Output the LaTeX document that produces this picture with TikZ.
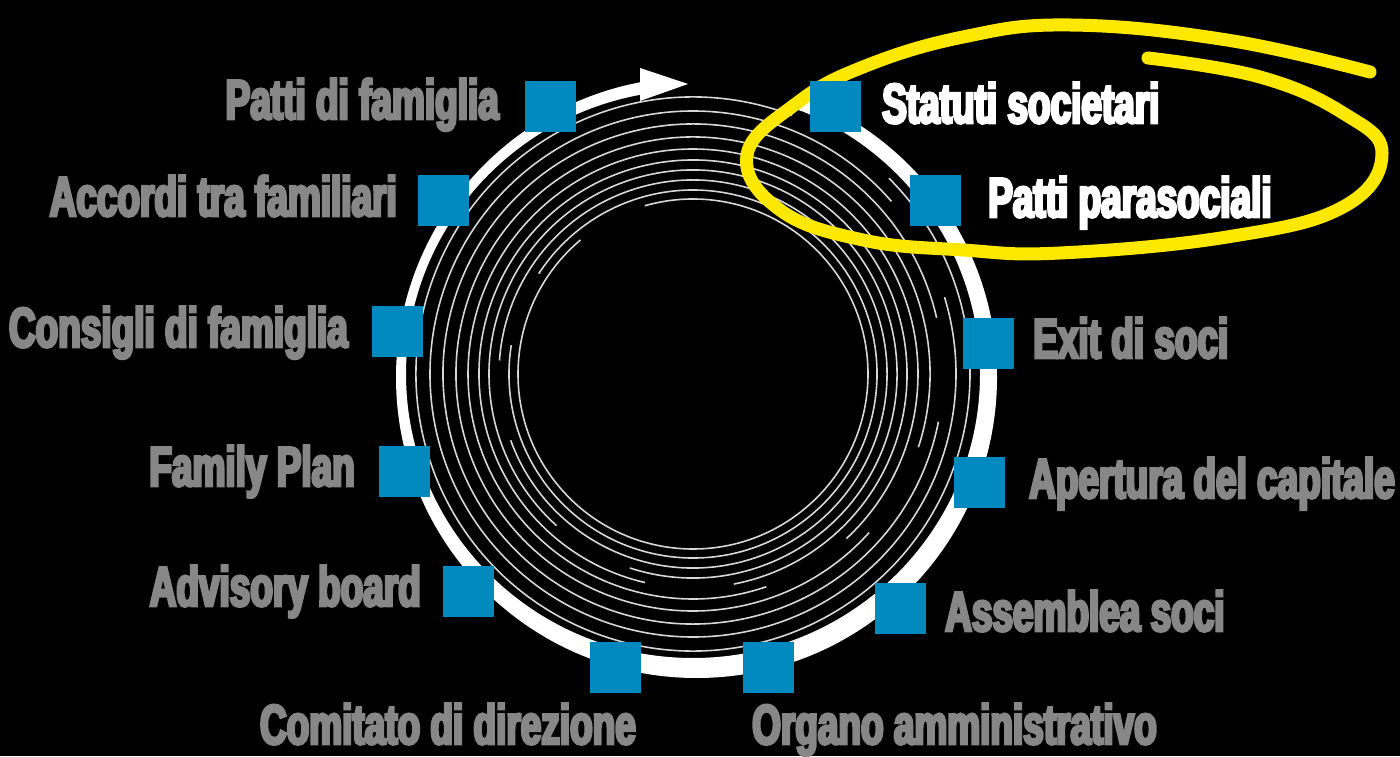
\documentclass[tikz,border=0pt]{standalone}
\usepackage{fontspec}
\newfontfamily\labelfont[FakeStretch=0.66,FakeBold=5]{Liberation Sans Bold}

\definecolor{sqblue}{RGB}{0,137,191}
\definecolor{txtgrey}{RGB}{135,135,135}
\definecolor{ringgrey}{RGB}{215,215,215}
\definecolor{markyellow}{RGB}{255,232,0}

\tikzset{
  sq/.style={fill=sqblue, minimum size=51pt, inner sep=0pt},
  lbl/.style={font=\labelfont\fontsize{56}{60}\selectfont, text=txtgrey, inner sep=0pt},
  lblhi/.style={lbl, text=white},
  ring/.style={ringgrey, line width=1.6pt},
}

\begin{document}
\begin{tikzpicture}[x=1pt,y=1pt]
  \fill[black] (0,0) rectangle (1400,756);
  \useasboundingbox (0,0) rectangle (1400,756);

  % white ring, thicker at the bottom right, open at the top
  \fill[white, even odd rule] (696.5,378.5) circle[radius=300.5]
    (693,382) ellipse[x radius=287, y radius=284];
  \fill[black] (640,600) rectangle (803,700);
  \fill[white] (803,651.5) circle[radius=7];
  \fill[white] (640,688) -- (688,672) -- (640,655) -- cycle;

  % thin rings, each with a gap
  \foreach \r/\g in {175/106,184/147,194/176,204/228,214/257,225/289,237/318,250/349,263/377,277/405}
    \draw[ring] (693,382) ++({\g+24}:\r) arc[start angle=\g+24, end angle=\g+360, radius=\r];

  % yellow marker loop
  \draw[markyellow, line width=13pt, line cap=round] plot[smooth, tension=0.7] coordinates {
    (1148,698) (1260,679) (1343,643) (1382,603) (1343,549) (1227,519) (1060,503)
    (963,506) (863,516) (780,546) (747,601) (797,653) (863,689) (963,719)
    (1070,731) (1227,716) (1370,684)};

  % squares
  \node[sq] (pf) at (550.5,649.5) {};
  \node[sq] (st) at (835.5,649.5) {};
  \node[sq] (af) at (443.5,555.5) {};
  \node[sq] (pp) at (935.5,555.5) {};
  \node[sq] (cf) at (397.5,424.5) {};
  \node[sq] (ex) at (988.5,412.5) {};
  \node[sq] (fp) at (404.5,284.5) {};
  \node[sq] (ap) at (979.5,273.5) {};
  \node[sq] (ab) at (468.5,164.5) {};
  \node[sq] (as) at (900.5,147.5) {};
  \node[sq] (cd) at (615.5,89) {};
  \node[sq] (oa) at (768.5,89) {};

  % labels
  \node[lbl, anchor=base east] (pf-l) at (499,637) {Patti di famiglia};
  \node[lbl, anchor=base east] (af-l) at (397,540) {Accordi tra familiari};
  \node[lbl, anchor=base east] (cf-l) at (348,409) {Consigli di famiglia};
  \node[lbl, anchor=base east] (fp-l) at (355,270) {Family Plan};
  \node[lbl, anchor=base east] (ab-l) at (421,150) {Advisory board};
  \node[lblhi, anchor=base west] (st-l) at (882,633) {Statuti societari};
  \node[lblhi, anchor=base west] (pp-l) at (988,539) {Patti parasociali};
  \node[lbl, anchor=base west] (ex-l) at (1033,398) {Exit di soci};
  \node[lbl, anchor=base west] (ap-l) at (1029,258) {Apertura del capitale};
  \node[lbl, anchor=base west] (as-l) at (945,125) {Assemblea soci};
  \node[lbl, anchor=base east] (cd-l) at (636,12) {Comitato di direzione};
  \node[lbl, anchor=base west] (oa-l) at (752,12) {Organo amministrativo};
\end{tikzpicture}
\end{document}
